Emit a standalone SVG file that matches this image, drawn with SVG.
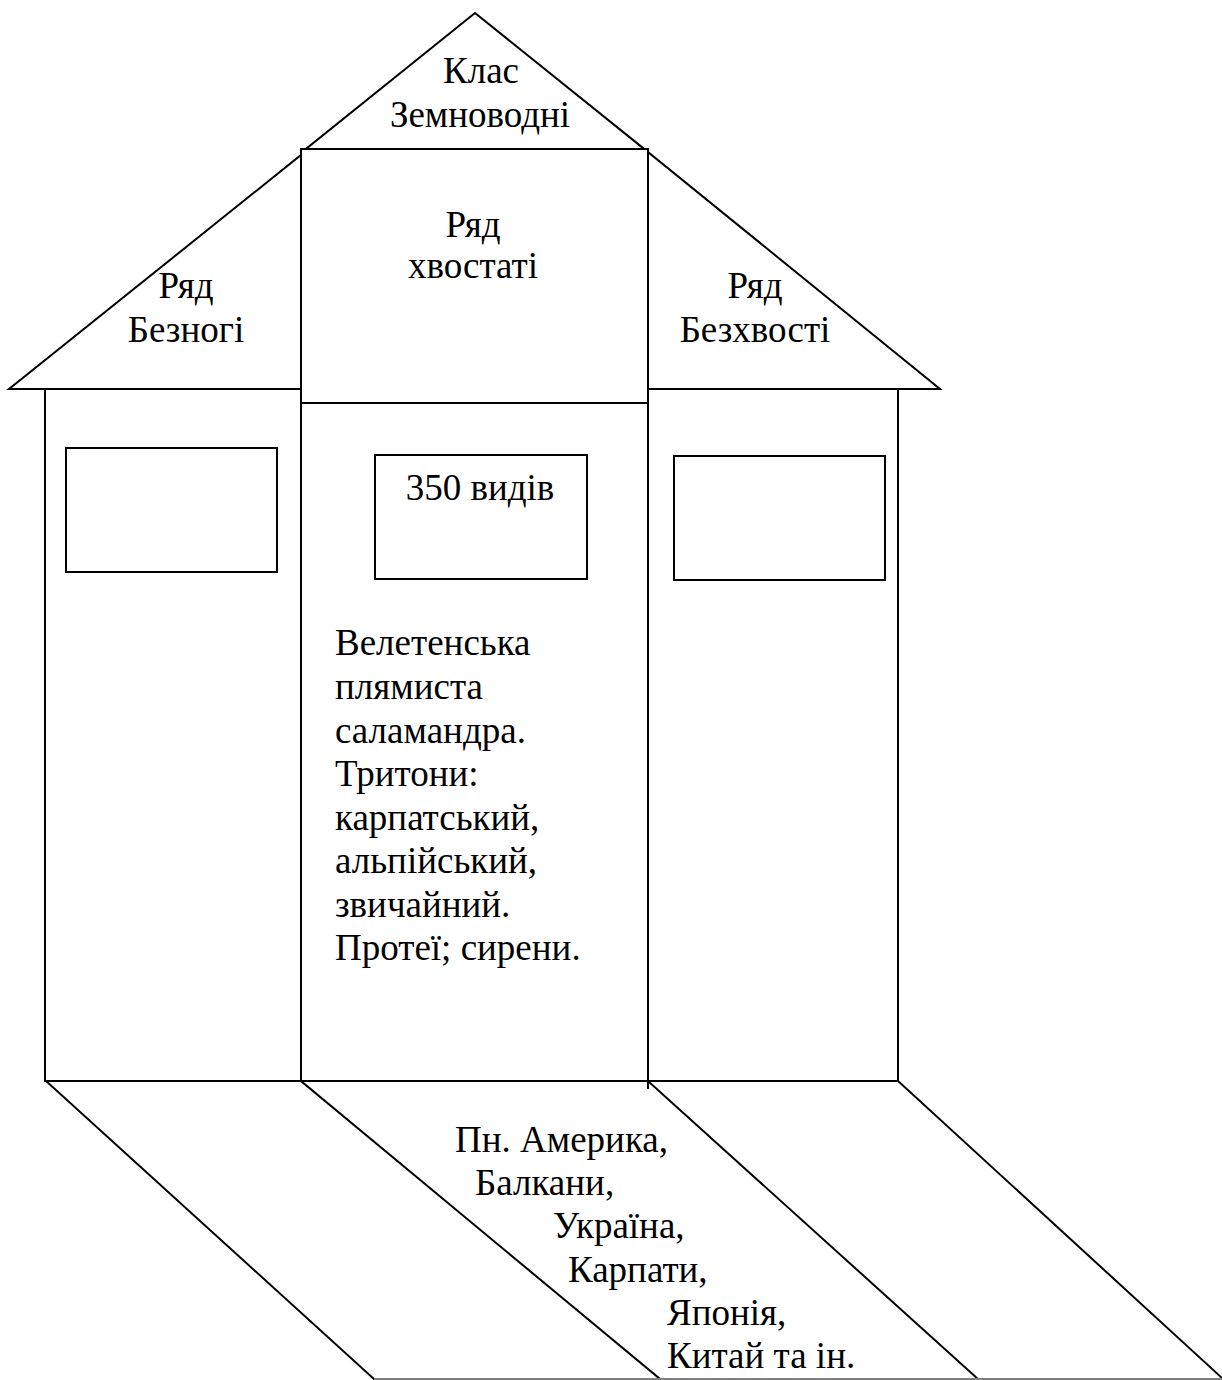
<svg xmlns="http://www.w3.org/2000/svg" width="1222" height="1380" viewBox="0 0 1222 1380">
<style>
.ln{stroke:#000;stroke-width:2;fill:none;stroke-linecap:square}
.bx{stroke:#000;stroke-width:2;fill:none}
.t{font-family:"Liberation Serif","Times New Roman",serif;font-size:37px;fill:#000}
.c{text-anchor:middle}
</style>
<rect width="1222" height="1380" fill="#fff"/>
<g id="roof-top">
<path class="ln" d="M307,148 L475,13 L643,148"/>
<text class="t c" x="481" y="83">Клас</text>
<text class="t c" x="480" y="127">Земноводні</text>
</g>
<g id="roof-left">
<path class="ln" d="M301,155 L9,389 L301,389"/>
<text class="t c" x="186" y="298">Ряд</text>
<text class="t c" x="186" y="342">Безногі</text>
</g>
<g id="roof-right">
<path class="ln" d="M648,152 L940,389 L648,389"/>
<text class="t c" x="755" y="298">Ряд</text>
<text class="t c" x="755" y="342">Безхвості</text>
</g>
<g id="order-tailed">
<rect class="bx" x="301" y="149" width="347" height="254"/>
<text class="t c" x="473" y="237">Ряд</text>
<text class="t c" x="473" y="278">хвостаті</text>
</g>
<g id="column-left">
<path class="ln" d="M45,389 L45,1081 L301,1081 L301,389"/>
<rect class="bx" x="66" y="448" width="211" height="124"/>
</g>
<g id="column-middle">
<path class="ln" d="M301,403 L301,1081 L648,1081"/>
<path class="ln" d="M648,403 L648,1088"/>
<rect class="bx" x="375" y="455" width="212" height="124"/>
<text class="t c" x="480" y="500">350 видів</text>
<text class="t" x="335" y="655">Велетенська</text>
<text class="t" x="335" y="699">плямиста</text>
<text class="t" x="335" y="743">саламандра.</text>
<text class="t" x="335" y="786">Тритони:</text>
<text class="t" x="335" y="830">карпатський,</text>
<text class="t" x="335" y="873">альпійський,</text>
<text class="t" x="335" y="917">звичайний.</text>
<text class="t" x="335" y="960">Протеї; сирени.</text>
</g>
<g id="column-right">
<path class="ln" d="M648,1081 L898,1081 L898,389"/>
<rect class="bx" x="674" y="456" width="211" height="124"/>
</g>
<g id="connectors">
<path class="ln" d="M46,1081 L374,1379"/>
<path class="ln" d="M301,1081 L660,1379"/>
<path class="ln" d="M649,1082 L978,1379"/>
<path class="ln" d="M898,1081 L1222,1378"/>
<path d="M374,1379 L1222,1379" stroke="#808080" stroke-width="2" fill="none"/>
</g>
<g id="ground-text">
<text class="t" x="455" y="1152">Пн. Америка,</text>
<text class="t" x="475" y="1195">Балкани,</text>
<text class="t" x="553" y="1238">Україна,</text>
<text class="t" x="568" y="1282">Карпати,</text>
<text class="t" x="667" y="1325">Японія,</text>
<text class="t" x="667" y="1368">Китай та ін.</text>
</g>
</svg>
